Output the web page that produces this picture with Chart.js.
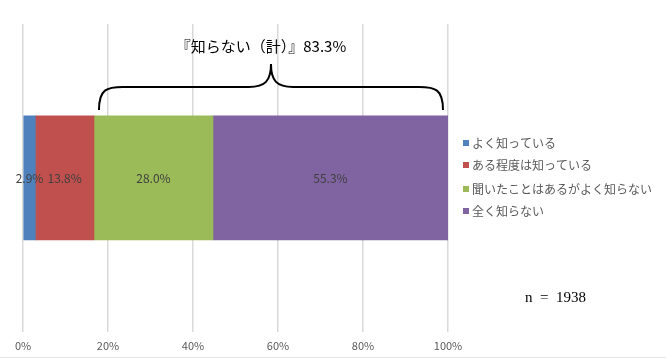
<!DOCTYPE html>
<html><head><meta charset="utf-8">
<script src="https://cdn.jsdelivr.net/npm/chart.js@4"></script>
<style>html,body{margin:0;padding:0;background:#fff;}canvas{display:block;}</style>
</head><body>
<canvas id="c" width="666" height="359"></canvas>
<script>
const categories = ['回答'];
const seriesNames = ['よく知っている','ある程度は知っている','聞いたことはあるがよく知らない','全く知らない'];
const seriesValues = [2.9, 13.8, 28.0, 55.3];
const seriesColors = ['#4F81BD','#C0504D','#9BBB59','#8064A2'];
const tickValues = [0,20,40,60,80,100];
const bracketLabel = '『知らない（計）』83.3%';
const bracketFrom = 16.7, bracketTo = 100;
const sampleLabel = 'n  =  1938';

const JP = '"Noto Sans CJK JP", "Noto Sans", sans-serif';

const overlay = {
  id:'overlay',
  afterDatasetsDraw(chart){
    const ctx = chart.ctx;
    ctx.save();
    ctx.font = '12px ' + JP;
    ctx.fillStyle = '#404040';
    ctx.textAlign = 'center'; ctx.textBaseline = 'middle';
    chart.data.datasets.forEach((ds,i)=>{
      const el = chart.getDatasetMeta(i).data[0];
      const cx = (el.x + el.base)/2;
      ctx.fillText(ds.data[0].toFixed(1)+'%', cx, el.y+1);
    });
    ctx.restore();
  },
  afterDraw(chart){
    const ctx = chart.ctx, xs = chart.scales.x;
    ctx.save();
    const L = xs.getPixelForValue(bracketFrom)+5, R = xs.getPixelForValue(bracketTo)-5;
    const M = (L+R)/2;
    const yEnd = 110, yMid = 87, yTip = 64;
    ctx.strokeStyle = '#000'; ctx.lineWidth = 2;
    ctx.beginPath();
    ctx.moveTo(L, yEnd);
    ctx.bezierCurveTo(L, yMid+2, L+8, yMid, L+24, yMid);
    ctx.lineTo(M-22, yMid);
    ctx.bezierCurveTo(M-6, yMid, M, yMid-6, M, yTip);
    ctx.bezierCurveTo(M, yMid-6, M+6, yMid, M+22, yMid);
    ctx.lineTo(R-24, yMid);
    ctx.bezierCurveTo(R-8, yMid, R, yMid+2, R, yEnd);
    ctx.stroke();
    ctx.fillStyle = '#000';
    ctx.font = '15px ' + JP;
    ctx.textAlign = 'center'; ctx.textBaseline = 'middle';
    ctx.fillText(bracketLabel, M-10, 46);
    ctx.font = '12px ' + JP;
    ctx.textAlign = 'left';
    const ly = [143,165,189,211];
    seriesNames.forEach((n,i)=>{
      ctx.fillStyle = seriesColors[i];
      ctx.fillRect(463, ly[i]-3, 6, 6);
      ctx.fillStyle = '#595959';
      ctx.fillText(n, 472, ly[i]);
    });
    ctx.fillStyle = '#000';
    ctx.font = '15px "Liberation Serif", serif';
    ctx.fillText(sampleLabel, 525, 298);
    ctx.fillStyle = '#e6e6e6';
    ctx.fillRect(0, 357, 666, 1);
    ctx.restore();
  }
};

new Chart(document.getElementById('c'), {
  type:'bar',
  data:{
    labels: categories,
    datasets: seriesNames.map((n,i)=>({
      label:n, data:[seriesValues[i]], backgroundColor:seriesColors[i],
      borderWidth:0, barThickness:124
    }))
  },
  options:{
    indexAxis:'y',
    responsive:false, animation:false,
    layout:{padding:{left:23, right:218, top:24, bottom:0}},
    plugins:{legend:{display:false}, tooltip:{enabled:false}},
    scales:{
      x:{
        stacked:true, min:0, max:100,
        afterBuildTicks(axis){ axis.ticks = tickValues.map(v=>({value:v})); },
        grid:{color:'#d9d9d9', lineWidth:1.5, drawTicks:false},
        border:{display:false},
        ticks:{padding:7, color:'#595959', font:{size:11, family:JP}, callback:v=>v+'%'}
      },
      y:{stacked:true, display:false}
    }
  },
  plugins:[overlay]
});
</script>
</body></html>
